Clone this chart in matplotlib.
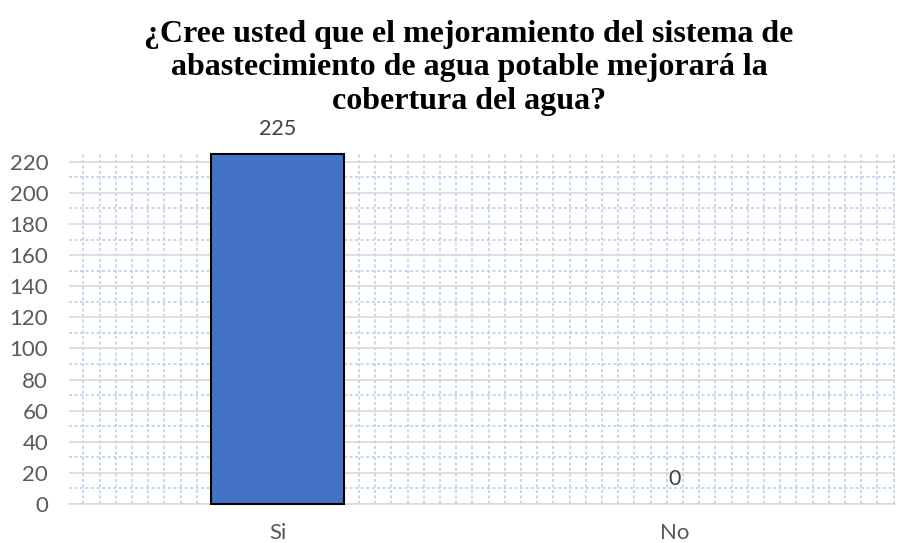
import matplotlib

matplotlib.use("Agg")
import matplotlib.pyplot as plt  # noqa: E402
from matplotlib.ticker import MultipleLocator  # noqa: E402

categories = ["Si", "No"]
counts = [225, 0]
y_ticks = list(range(0, 221, 20))
title = ("¿Cree usted que el mejoramiento del sistema de\n"
         "abastecimiento de agua potable mejorará la\n"
         "cobertura del agua?")

BAR_COLOR = "#4472c4"
TEXT_GRAY = "#595959"
LABEL_GRAY = "#404040"
MAJOR_GRID = "#d9d9d9"
PATTERN = "#b4d0ec"

plt.rcParams.update({"font.family": ["Lato", "DejaVu Sans"]})

W, H = 897, 543
fig = plt.figure(figsize=(W / 100, H / 100), dpi=100)
# plot area in pixels: left 69, right 895, baseline 504, top 154
ax = fig.add_axes([69 / W, (H - 504) / H, (895 - 69) / W, (504 - 154) / H])

x = range(len(categories))
bars = ax.bar(x, counts, width=0.335, color=BAR_COLOR, edgecolor="black",
              linewidth=1.5, zorder=3)
for b, v in zip(bars, counts):
    b.set_clip_on(False)
    if v == 0:
        b.set_edgecolor("none")

for xi, v in zip(x, counts):
    ax.annotate(f"{v}", xy=(xi, v), xytext=(0, 11), textcoords="offset points",
                ha="center", va="bottom", fontsize=15.5, color=LABEL_GRAY)

ax.set_xlim(-0.526, 1.554)
ax.set_ylim(0, 225)
ax.set_xticks(list(x))
ax.set_xticklabels(categories)
ax.set_yticks(y_ticks)

# light blue small-grid pattern behind the major gridlines
ax.xaxis.set_minor_locator(MultipleLocator(0.0408))
ax.yaxis.set_minor_locator(MultipleLocator(10))
ax.grid(which="minor", color=PATTERN, linewidth=1.1, linestyle=(0, (2, 1.6)), zorder=0)
ax.grid(which="major", axis="y", color=MAJOR_GRID, linewidth=1.2, zorder=1)
ax.set_axisbelow(True)

ax.tick_params(which="both", length=0)
ax.tick_params(axis="y", pad=15, labelsize=16, labelcolor=TEXT_GRAY)
ax.tick_params(axis="x", pad=14, labelsize=16, labelcolor=TEXT_GRAY)
for side in ("left", "right", "top"):
    ax.spines[side].set_visible(False)
ax.spines["bottom"].set_color(MAJOR_GRID)
ax.spines["bottom"].set_linewidth(1.2)

fig.text(469 / W, 1 - 68 / H, title, ha="center", va="center",
         family="Liberation Serif", fontweight="bold", fontsize=23,
         linespacing=1.22, color="black")

fig.savefig("out.png", dpi=100)
